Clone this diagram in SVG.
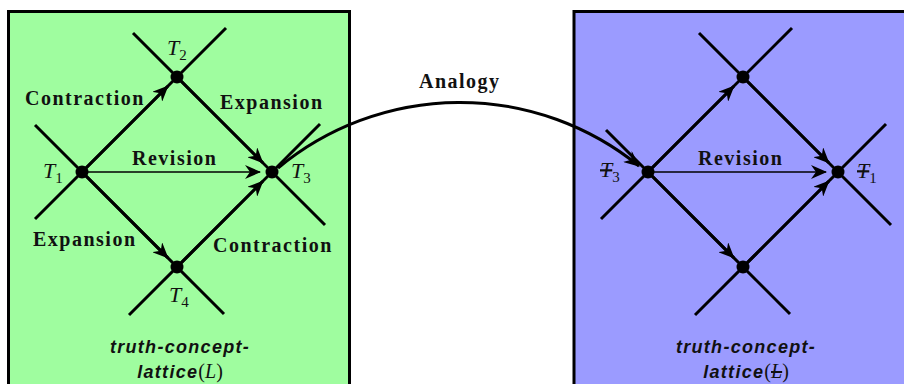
<svg xmlns="http://www.w3.org/2000/svg" width="904" height="384" viewBox="0 0 904 384">
<style>
.lab{font-family:"Liberation Serif",serif;font-weight:bold;font-size:20px;letter-spacing:1.5px;fill:#111}
.tv{font-family:"Liberation Serif",serif;font-style:italic;font-size:22px;fill:#111}
.sub{font-style:normal;font-size:15px}
.cap{font-family:"Liberation Sans",Arial,sans-serif;font-style:italic;font-weight:bold;font-size:18px;letter-spacing:1.3px;fill:#111}
.st{stroke:#000;stroke-width:3;fill:none}
.edge{stroke:#000;stroke-width:3;fill:none;marker-end:url(#ah)}
.edgeT{stroke:#000;stroke-width:1.6;fill:none;marker-end:url(#ah)}
.dot{fill:#000}
</style>
<defs>
<marker id="ah" viewBox="0 0 16 14" refX="15" refY="7" markerWidth="16" markerHeight="14" markerUnits="userSpaceOnUse" orient="auto">
<path d="M0,0 L16,7 L0,14 L5,7 z" fill="#000"/>
</marker>
</defs>
<rect width="904" height="384" fill="#fff"/>
<g id="box-L">
<rect x="8.5" y="11.5" width="341" height="400" fill="#9ffd9f" stroke="#000" stroke-width="3"/>
<text class="cap" x="180" y="353" text-anchor="middle">truth-concept-</text>
<text class="cap" x="180" y="378" text-anchor="middle">lattice<tspan font-family="Liberation Serif" font-weight="normal" font-style="normal" font-size="20" letter-spacing="0">(</tspan><tspan font-family="Liberation Serif" font-weight="normal" font-size="20" letter-spacing="0">L</tspan><tspan font-family="Liberation Serif" font-weight="normal" font-style="normal" font-size="20" letter-spacing="0">)</tspan></text>
</g>
<g id="box-R">
<rect x="574" y="11.5" width="400" height="400" fill="#9b9bff" stroke="#000" stroke-width="3"/>
<text class="cap" x="746" y="353" text-anchor="middle">truth-concept-</text>
<text class="cap" x="746" y="378" text-anchor="middle">lattice<tspan font-family="Liberation Serif" font-weight="normal" font-style="normal" font-size="20" letter-spacing="0">(</tspan><tspan font-family="Liberation Serif" font-weight="normal" font-size="20" letter-spacing="0" text-decoration="line-through">L</tspan><tspan font-family="Liberation Serif" font-weight="normal" font-style="normal" font-size="20" letter-spacing="0">)</tspan></text>
</g>
<g id="lattice-lines">
<line class="st" x1="35" y1="219" x2="226" y2="28"/>
<line class="st" x1="133" y1="33" x2="325" y2="225"/>
<line class="st" x1="35" y1="125" x2="224" y2="314"/>
<line class="st" x1="129" y1="315" x2="320" y2="124"/>
<line class="st" x1="601" y1="219" x2="792" y2="28"/>
<line class="st" x1="699" y1="33" x2="891" y2="225"/>
<line class="st" x1="606" y1="130" x2="790" y2="314"/>
<line class="st" x1="695" y1="315" x2="886" y2="124"/>
</g>
<g id="connectors">
<line class="edge" x1="82" y1="172" x2="167.8" y2="86.2"/>
<line class="edge" x1="177" y1="77" x2="262.8" y2="162.8"/>
<line class="edge" x1="82" y1="172" x2="167.8" y2="257.8"/>
<line class="edge" x1="177" y1="267" x2="262.8" y2="181.2"/>
<line class="edgeT" x1="82" y1="172" x2="260" y2="172"/>
<line class="edge" x1="648" y1="172" x2="733.8" y2="86.2"/>
<line class="edge" x1="743" y1="77" x2="828.8" y2="162.8"/>
<line class="edge" x1="648" y1="172" x2="733.8" y2="257.8"/>
<line class="edge" x1="743" y1="267" x2="828.8" y2="181.2"/>
<line class="edgeT" x1="648" y1="172" x2="826" y2="172"/>
<path class="edge" d="M278,168 A284.5,284.5 0 0 1 639,166"/>
<text class="lab" x="25" y="105">Contraction</text>
<text class="lab" x="220" y="109">Expansion</text>
<text class="lab" x="132" y="165">Revision</text>
<text class="lab" x="33" y="246">Expansion</text>
<text class="lab" x="213" y="252">Contraction</text>
<text class="lab" x="698" y="165">Revision</text>
<text class="lab" x="419" y="88">Analogy</text>
</g>
<g id="T1"><circle class="dot" cx="82" cy="172" r="6.5"/><text class="tv" x="43" y="178">T<tspan class="sub" dy="5">1</tspan></text></g>
<g id="T2"><circle class="dot" cx="177" cy="77" r="6.5"/><text class="tv" x="167" y="55">T<tspan class="sub" dy="5">2</tspan></text></g>
<g id="T3"><circle class="dot" cx="272" cy="172" r="6.5"/><text class="tv" x="291" y="178">T<tspan class="sub" dy="5">3</tspan></text></g>
<g id="T4"><circle class="dot" cx="177" cy="267" r="6.5"/><text class="tv" x="169" y="302">T<tspan class="sub" dy="5">4</tspan></text></g>
<g id="R-T3"><circle class="dot" cx="648" cy="172" r="6.5"/><text class="tv" x="600" y="177"><tspan text-decoration="line-through">T</tspan><tspan class="sub" dy="5">3</tspan></text></g>
<g id="R-top"><circle class="dot" cx="743" cy="77" r="6.5"/></g>
<g id="R-T1"><circle class="dot" cx="838" cy="172" r="6.5"/><text class="tv" x="857" y="178"><tspan text-decoration="line-through">T</tspan><tspan class="sub" dy="5">1</tspan></text></g>
<g id="R-bottom"><circle class="dot" cx="743" cy="267" r="6.5"/></g>
</svg>
